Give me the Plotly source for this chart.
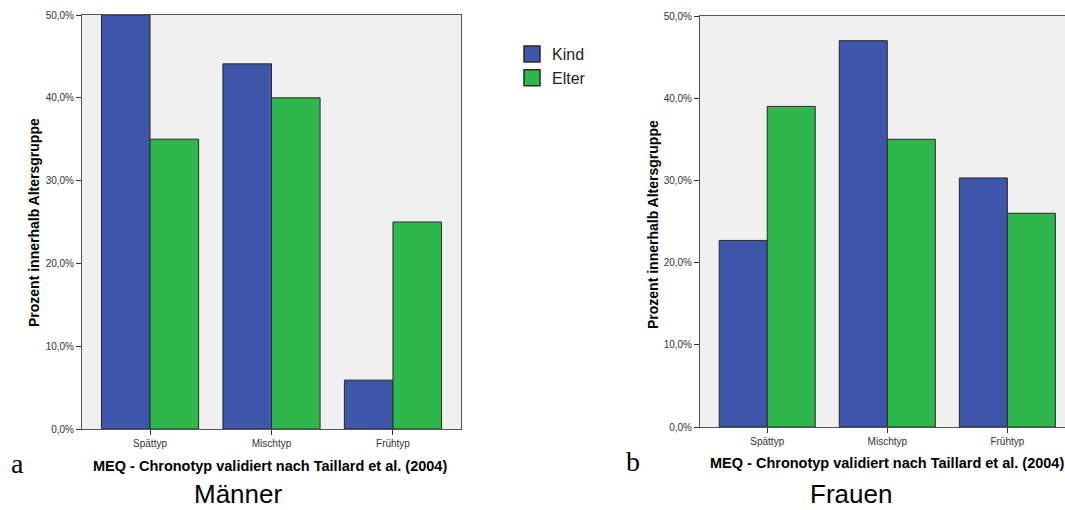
import plotly.graph_objects as go

categories = ["Spättyp", "Mischtyp", "Frühtyp"]
maenner_kind = [50.0, 44.1, 5.9]
maenner_elter = [35.0, 40.0, 25.0]
frauen_kind = [22.7, 47.0, 30.3]
frauen_elter = [39.0, 35.0, 26.0]
y_tickvals = [0, 10, 20, 30, 40, 50]
y_ticktext = ["0,0%", "10,0%", "20,0%", "30,0%", "40,0%", "50,0%"]
series_names = ["Kind", "Elter"]

BLUE = "#3e56a9"
GREEN = "#2eb84b"
W, H = 1065, 510
SANS = "Liberation Sans, Arial, sans-serif"
SERIF = "Liberation Serif, Times New Roman, serif"

fig = go.Figure()
xs = list(range(len(categories)))
for xa, ya, kind, elter in [("x", "y", maenner_kind, maenner_elter),
                            ("x2", "y2", frauen_kind, frauen_elter)]:
    fig.add_trace(go.Bar(x=xs, y=kind, name=series_names[0], marker_color=BLUE,
                         marker_line=dict(color="#2a2a2a", width=1),
                         xaxis=xa, yaxis=ya, showlegend=False))
    fig.add_trace(go.Bar(x=xs, y=elter, name=series_names[1], marker_color=GREEN,
                         marker_line=dict(color="#2a2a2a", width=1),
                         xaxis=xa, yaxis=ya, showlegend=False))

# legend entries
for name, col in zip(series_names, [BLUE, GREEN]):
    fig.add_trace(go.Scatter(x=[None], y=[None], mode="markers", name=name,
                             marker=dict(symbol="square", size=16, color=col,
                                         line=dict(color="#2a2a2a", width=1.5)),
                             xaxis="x", yaxis="y"))

def px_x(p):
    return p / W

def px_y(p):
    return 1 - p / H

axis_common = dict(showline=True, mirror=True, linecolor="#555", linewidth=1,
                   ticks="outside", tickcolor="#333", ticklen=5,
                   tickfont=dict(family=SANS, size=10, color="#333"),
                   showgrid=False, zeroline=False, automargin=False)

fig.update_layout(
    width=W, height=H,
    autosize=False,
    margin=dict(l=0, r=0, t=0, b=0, pad=0, autoexpand=False),
    paper_bgcolor="white",
    plot_bgcolor="#f0f0f0",
    barmode="group", bargap=0.2, bargroupgap=0,
    xaxis=dict(domain=[px_x(82), px_x(461)], range=[-0.56, 2.56],
               tickvals=xs, ticktext=categories, anchor="y", **axis_common),
    yaxis=dict(domain=[px_y(429), px_y(15)], range=[0, 50],
               tickvals=y_tickvals, ticktext=y_ticktext, anchor="x", **axis_common),
    xaxis2=dict(domain=[px_x(700), 1.0], range=[-0.56, 2.48],
                tickvals=xs, ticktext=categories, anchor="y2", **axis_common),
    yaxis2=dict(domain=[px_y(427), px_y(16)], range=[0, 50],
                tickvals=y_tickvals, ticktext=y_ticktext, anchor="x2", **axis_common),
    legend=dict(x=px_x(512), y=px_y(37), xanchor="left", yanchor="top",
                font=dict(family=SANS, size=16, color="#222"),
                bgcolor="rgba(0,0,0,0)", itemsizing="trace", tracegroupgap=0,
                itemwidth=30),
    showlegend=True,
)

ann = []
xtitle = "MEQ - Chronotyp validiert nach Taillard et al. (2004)"
ytitle = "Prozent innerhalb Altersgruppe"
for cx, cy in [(270, 466), (887, 463)]:
    ann.append(dict(x=px_x(cx), y=px_y(cy), xref="paper", yref="paper",
                    text="<b>" + xtitle + "</b>", showarrow=False,
                    font=dict(family=SANS, size=14.5, color="black"),
                    xanchor="center", yanchor="middle"))
for cx, cy in [(34, 223), (653, 225)]:
    ann.append(dict(x=px_x(cx), y=px_y(cy), xref="paper", yref="paper",
                    text="<b>" + ytitle + "</b>", showarrow=False, textangle=-90,
                    font=dict(family=SANS, size=14, color="black"),
                    xanchor="center", yanchor="middle"))
for t, cx, cy in [("a", 17, 463), ("b", 633, 461)]:
    ann.append(dict(x=px_x(cx), y=px_y(cy), xref="paper", yref="paper",
                    text=t, showarrow=False,
                    font=dict(family=SERIF, size=28, color="black"),
                    xanchor="center", yanchor="middle"))
for t, cx, cy in [("Männer", 238, 494), ("Frauen", 851, 494)]:
    ann.append(dict(x=px_x(cx), y=px_y(cy), xref="paper", yref="paper",
                    text=t, showarrow=False,
                    font=dict(family=SANS, size=26, color="black"),
                    xanchor="center", yanchor="middle"))
fig.update_layout(annotations=ann)

fig.write_html("out.html", config={"displayModeBar": False},
               post_script="document.body.style.margin='0';")
